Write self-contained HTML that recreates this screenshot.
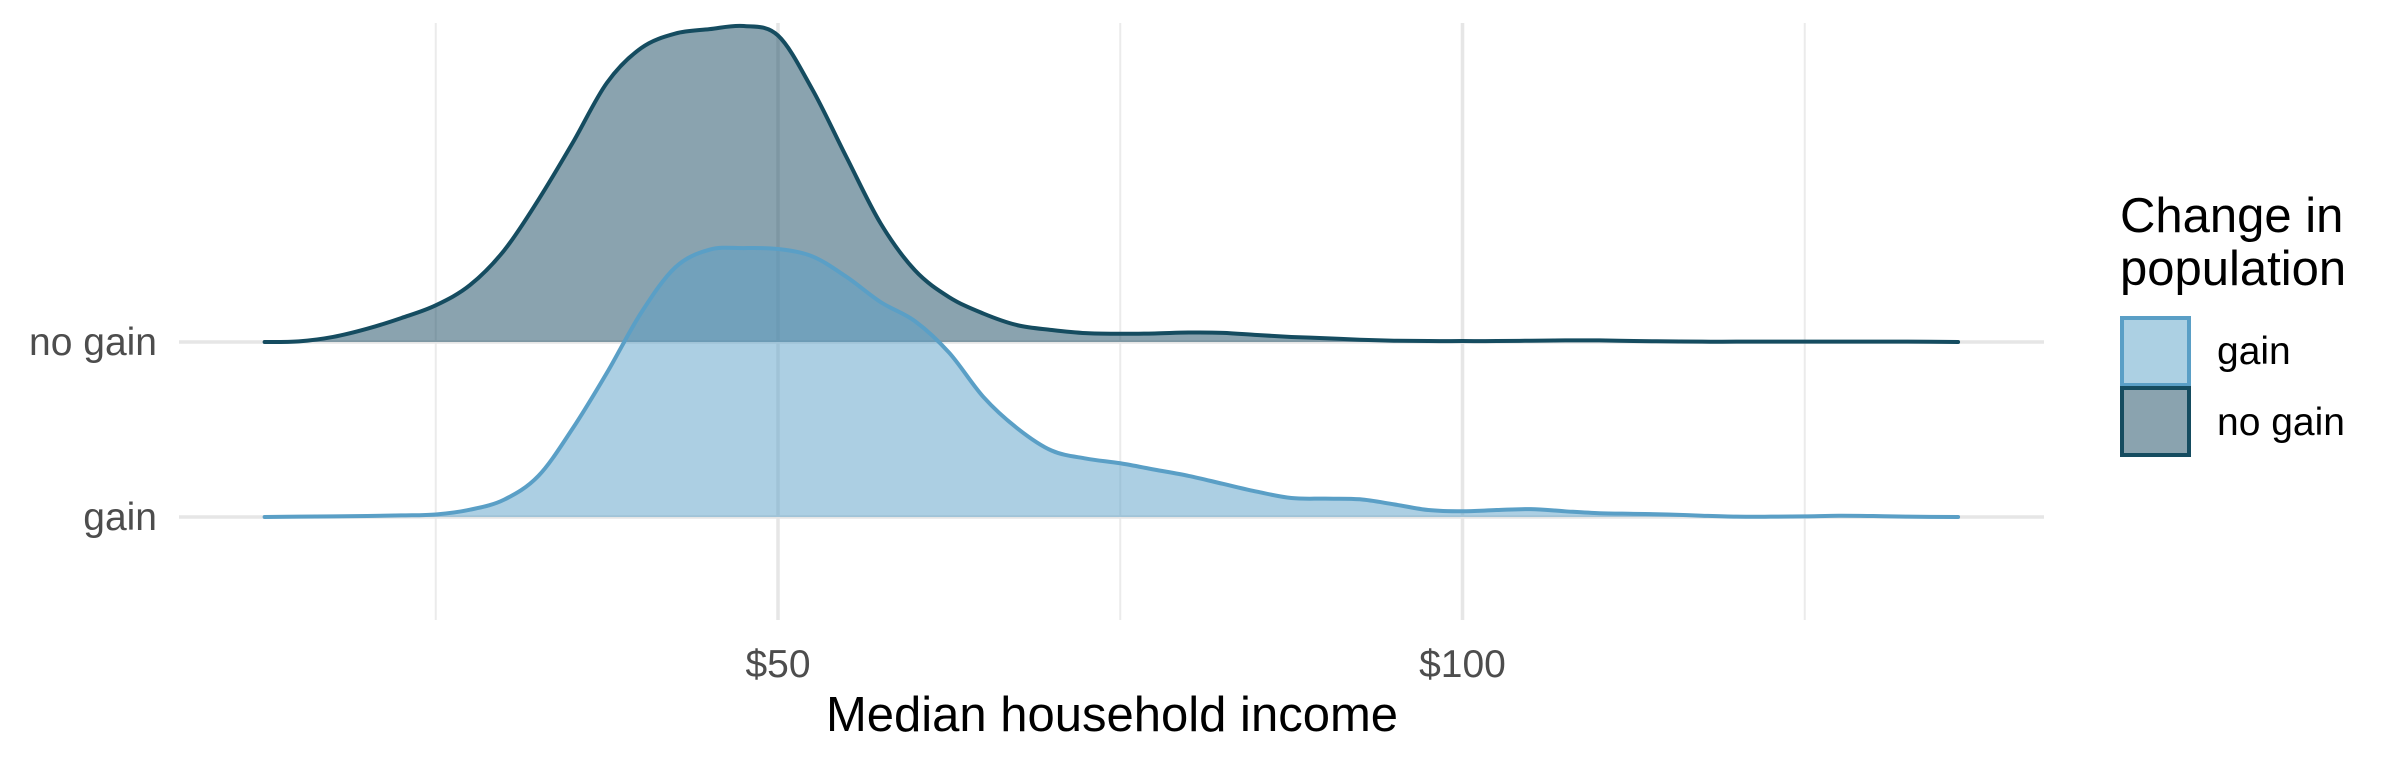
<!DOCTYPE html>
<html><head><meta charset="utf-8"><style>
html,body{margin:0;padding:0;background:#fff;}
svg{display:block;font-family:"Liberation Sans",Arial,sans-serif;}
</style></head><body>
<svg id="chart" width="2400" height="768" viewBox="0 0 2400 768">
<g id="grid"></g>
<g id="ridges"></g>
<g id="axes"></g>
<text x="1112" y="731" font-size="49" text-anchor="middle" fill="#000">Median household income</text>
<g>
<text x="2120" y="232" font-size="49" fill="#000">Change in</text>
<text x="2120" y="285" font-size="49" fill="#000">population</text>
<rect x="2122" y="318" width="67" height="67" fill="#acd0e3" stroke="#5a9fc6" stroke-width="4"/>
<text x="2217" y="364" font-size="39" fill="#000">gain</text>
<rect x="2122" y="388" width="67" height="67" fill="#8aa3af" stroke="#154c60" stroke-width="4"/>
<text x="2217" y="435" font-size="39" fill="#000">no gain</text>
</g>
</svg>
<script>
const incomeGrid = [12.5,15,17.5,20,22.5,25,27.5,30,32.5,35,37.5,40,42.5,45,47.5,50,52.5,55,57.5,60,62.5,65,67.5,70,72.5,75,77.5,80,82.5,85,87.5,90,92.5,95,97.5,100,102.5,105,107.5,110,112.5,115,117.5,120,122.5,125,127.5,130,132.5,136.2];
const noGainDensity = [0,0.002,0.016,0.042,0.076,0.116,0.18,0.29,0.45,0.63,0.82,0.93,0.976,0.99,1.0,0.97,0.80,0.585,0.375,0.227,0.142,0.09,0.053,0.038,0.028,0.026,0.027,0.03,0.029,0.022,0.016,0.012,0.007,0.004,0.003,0.003,0.003,0.004,0.005,0.005,0.003,0.002,0.001,0.001,0.001,0.001,0.001,0.001,0.001,0];
const gainDensity = [0,0.001,0.002,0.003,0.005,0.008,0.023,0.055,0.13,0.28,0.456,0.646,0.79,0.846,0.851,0.848,0.825,0.76,0.68,0.62,0.52,0.38,0.28,0.21,0.185,0.17,0.15,0.13,0.105,0.08,0.06,0.058,0.056,0.04,0.022,0.018,0.022,0.025,0.018,0.012,0.01,0.008,0.004,0.001,0.001,0.002,0.004,0.003,0.001,0];
const xTicks = [50,100];
const xTickLabels = ["$50","$100"];
const xGridMinor = [25,75,125];
const groups = ["gain","no gain"];

const NS="http://www.w3.org/2000/svg";
function xs(v){return 778 + (v-50)*13.69;}
const baselines = {"no gain":342,"gain":517};
const hScale = 316;
function mk(tag,attrs,parent){const e=document.createElementNS(NS,tag);for(const k in attrs)e.setAttribute(k,attrs[k]);parent.appendChild(e);return e;}
const grid=document.getElementById('grid'), ridges=document.getElementById('ridges'), axes=document.getElementById('axes');
xGridMinor.forEach(v=>{const l=mk('line',{x1:xs(v),x2:xs(v),y1:23,y2:620,stroke:'#ebebeb','stroke-width':2},grid);

});
xTicks.forEach((v,i)=>{const l=mk('line',{x1:xs(v),x2:xs(v),y1:23,y2:620,stroke:'#e6e6e6','stroke-width':3.5},grid);


const t=mk('text',{x:xs(v),y:677,'font-size':39,'text-anchor':'middle',fill:'#4d4d4d'},axes);t.textContent=xTickLabels[i];

});
groups.forEach(g=>{const y=baselines[g];const l=mk('line',{x1:179,x2:2044,y1:y,y2:y,stroke:'#e6e6e6','stroke-width':3.5},grid);


const t=mk('text',{x:157,y:y+13,'font-size':39,'text-anchor':'end',fill:'#4d4d4d'},axes);t.textContent=g;

});
function smoothPath(pts){let d=`M${pts[0][0]},${pts[0][1]}`;
for(let i=0;i<pts.length-1;i++){const p0=pts[Math.max(0,i-1)],p1=pts[i],p2=pts[i+1],p3=pts[Math.min(pts.length-1,i+2)];
const c1y=p1[1]+(p2[1]-p0[1])/6, c2y=p2[1]-(p3[1]-p1[1])/6;
const c1x=p1[0]+(p2[0]-p0[0])/6, c2x=p2[0]-(p3[0]-p1[0])/6;
d+=` C${c1x},${c1y} ${c2x},${c2y} ${p2[0]},${p2[1]}`;}return d;}
function ridge(vals,base,fill,stroke,name){
const pts=incomeGrid.map((v,i)=>[xs(v),base-vals[i]*hScale]);
const line=smoothPath(pts);
const a=mk('path',{d:line+` L${pts[pts.length-1][0]},${base} L${pts[0][0]},${base} Z`,fill:fill,'fill-opacity':0.5},ridges);


const s=mk('path',{d:line,fill:'none',stroke:stroke,'stroke-width':4,'stroke-linejoin':'round','stroke-linecap':'round'},ridges);

}
ridge(noGainDensity,baselines["no gain"],'#15485f','#154c60','no-gain-ridge');
ridge(gainDensity,baselines["gain"],'#5aa0c8','#5a9fc6','gain-ridge');
</script>
</body></html>
